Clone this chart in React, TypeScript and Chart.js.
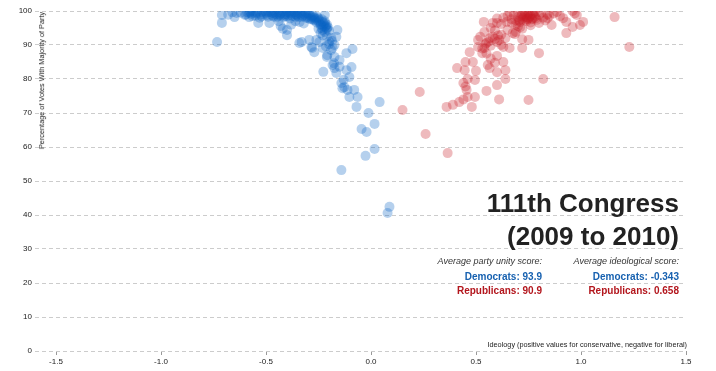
import React, { useEffect, useRef } from "react";
import { Chart, registerables } from "chart.js";

Chart.register(...registerables);

// [ideology score, party unity %]
const democrats: [number, number][] = [
  [-0.733, 90.9], [-0.71, 98.8], [-0.71, 96.5], [-0.68, 98.9], [-0.66, 99.6], [-0.65, 98.2], [-0.64, 99.4],
  [-0.62, 99.5], [-0.6, 98.8], [-0.59, 99.6], [-0.58, 98.2], [-0.58, 99.4], [-0.57, 99.1], [-0.56, 99.8],
  [-0.55, 98.6], [-0.55, 99.2], [-0.54, 99.3], [-0.53, 98.0], [-0.52, 99.7], [-0.52, 98.4], [-0.51, 98.9],
  [-0.5, 99.4], [-0.49, 98.3], [-0.49, 99.6], [-0.48, 99.8], [-0.47, 98.7], [-0.47, 99.5], [-0.46, 99.2],
  [-0.45, 98.1], [-0.45, 99.0], [-0.44, 99.6], [-0.43, 98.5], [-0.43, 99.3], [-0.42, 99.9], [-0.41, 99.0],
  [-0.41, 98.5], [-0.4, 98.4], [-0.4, 99.7], [-0.39, 99.5], [-0.38, 98.8], [-0.38, 99.4], [-0.37, 99.9],
  [-0.36, 99.2], [-0.36, 98.3], [-0.35, 98.6], [-0.35, 99.5], [-0.34, 99.7], [-0.33, 98.3], [-0.33, 99.4],
  [-0.32, 99.1], [-0.31, 98.0], [-0.31, 99.3], [-0.3, 98.9], [-0.3, 97.9], [-0.29, 97.6], [-0.29, 98.7],
  [-0.28, 98.4], [-0.28, 97.5], [-0.27, 97.2], [-0.27, 98.1], [-0.26, 96.6], [-0.26, 97.7], [-0.25, 97.8],
  [-0.25, 96.9], [-0.24, 95.9], [-0.24, 96.2], [-0.23, 96.8], [-0.23, 95.5], [-0.22, 95.3], [-0.22, 97.0],
  [-0.21, 94.6], [-0.21, 96.0], [-0.21, 95.0], [-0.2, 94.2], [-0.22, 98.8], [-0.22, 96.4],
  [-0.24, 93.5], [-0.23, 92.8], [-0.22, 93.8], [-0.21, 92.5], [-0.25, 94.8],
  [-0.595, 99.0], [-0.575, 99.8], [-0.565, 98.5], [-0.545, 99.6], [-0.525, 99.0], [-0.505, 99.9],
  [-0.495, 98.8], [-0.475, 99.2], [-0.465, 98.4], [-0.455, 99.7], [-0.435, 98.9], [-0.425, 99.5],
  [-0.415, 98.2], [-0.405, 99.1], [-0.395, 98.7], [-0.385, 100.0], [-0.375, 98.5], [-0.365, 99.6],
  [-0.355, 98.9], [-0.345, 98.2], [-0.335, 99.0], [-0.325, 98.6], [-0.315, 99.8], [-0.305, 98.4],
  [-0.295, 99.2], [-0.285, 98.0], [-0.275, 98.7], [-0.265, 97.4], [-0.255, 98.2], [-0.245, 97.2],
  [-0.235, 97.6], [-0.225, 96.0], [-0.215, 95.6], [-0.205, 95.2], [-0.445, 98.4], [-0.385, 97.8],
  [-0.537, 96.5], [-0.484, 96.5], [-0.43, 95.6], [-0.4, 94.4], [-0.4, 92.9], [-0.42, 94.8], [-0.44, 97.0],
  [-0.38, 96.0], [-0.36, 97.0], [-0.34, 96.8], [-0.32, 96.3],
  [-0.341, 90.6], [-0.33, 90.9], [-0.294, 91.5], [-0.284, 89.4], [-0.27, 87.9], [-0.28, 89.1], [-0.246, 90.9],
  [-0.23, 89.1], [-0.236, 95.0], [-0.231, 94.4], [-0.189, 92.1], [-0.183, 89.1], [-0.16, 94.4], [-0.165, 92.4],
  [-0.174, 90.0], [-0.174, 86.5], [-0.21, 86.5], [-0.15, 85.6], [-0.117, 87.6], [-0.088, 88.8], [-0.208, 87.0],
  [-0.19, 88.5], [-0.26, 91.5], [-0.2, 91.0], [-0.2, 90.2], [-0.215, 89.6], [-0.185, 91.2],
  [-0.183, 84.1], [-0.174, 83.2], [-0.227, 82.1], [-0.165, 81.8], [-0.117, 82.6], [-0.093, 83.5], [-0.103, 80.6],
  [-0.141, 78.8], [-0.127, 77.6], [-0.112, 76.8], [-0.08, 76.8], [-0.103, 74.7], [-0.064, 74.7], [-0.069, 71.8],
  [0.041, 73.2], [-0.012, 70.0], [0.017, 66.8], [-0.045, 65.3], [-0.021, 64.4], [0.017, 59.4], [-0.026, 57.4],
  [-0.141, 53.2], [0.088, 42.4], [0.079, 40.6], [-0.15, 83.6], [-0.13, 79.8], [-0.176, 84.6], [-0.136, 77.3],
];

const republicans: [number, number][] = [
  [0.15, 70.9], [0.232, 76.2], [0.26, 63.8], [0.365, 58.2], [0.36, 71.8], [0.39, 72.4], [0.42, 73.2],
  [0.44, 74.0], [0.48, 71.8], [0.46, 74.7], [0.495, 74.7], [0.455, 76.8], [0.45, 77.8], [0.44, 78.8],
  [0.46, 80.0], [0.495, 79.7], [0.55, 76.5], [0.61, 74.0], [0.6, 78.2], [0.75, 73.8], [0.82, 80.0],
  [0.8, 87.6], [0.93, 93.5], [1.16, 98.2], [1.23, 89.4],
  [0.41, 83.2], [0.446, 82.6], [0.45, 85.0], [0.485, 85.0], [0.5, 82.4], [0.556, 84.1], [0.565, 83.2],
  [0.6, 82.0], [0.63, 85.0], [0.64, 82.6], [0.64, 80.0], [0.6, 86.8], [0.59, 84.8], [0.47, 87.9],
  [0.51, 89.4], [0.53, 87.6], [0.54, 89.1], [0.55, 90.6], [0.51, 91.5], [0.52, 92.4], [0.54, 93.8],
  [0.537, 96.8], [0.58, 92.4], [0.6, 90.9], [0.61, 91.5], [0.63, 89.4], [0.66, 89.1], [0.72, 89.1],
  [0.675, 93.5], [0.69, 93.8], [0.72, 91.7], [0.75, 91.5], [0.6, 96.5], [0.646, 96.8], [0.67, 96.5],
  [0.685, 93.2], [0.57, 95.0], [0.59, 94.3], [0.62, 93.0], [0.64, 92.0], [0.56, 91.0], [0.57, 89.8],
  [0.62, 90.0], [0.65, 94.5], [0.58, 96.5], [0.6, 97.8], [0.53, 89.0], [0.55, 87.5], [0.57, 86.0],
  [0.7, 95.5], [0.72, 94.8], [0.59, 91.8], [0.605, 92.8], [0.545, 90.2], [0.565, 92.0],
  [0.65, 98.5], [0.66, 99.5], [0.67, 97.6], [0.68, 98.9], [0.69, 97.2], [0.7, 99.8], [0.7, 98.2],
  [0.71, 96.8], [0.72, 99.1], [0.72, 97.5], [0.73, 98.6], [0.73, 99.8], [0.74, 97.0], [0.74, 98.2],
  [0.75, 99.4], [0.75, 97.9], [0.76, 98.6], [0.76, 96.6], [0.77, 99.2], [0.77, 97.8], [0.78, 98.3],
  [0.78, 99.9], [0.79, 97.4], [0.8, 98.8], [0.8, 96.5], [0.81, 99.5], [0.82, 98.0], [0.83, 97.2],
  [0.84, 97.9], [0.84, 99.0], [0.86, 95.9], [0.85, 98.6], [0.885, 99.7], [0.9, 98.5], [0.915, 97.9],
  [0.93, 96.8], [0.96, 100.0], [0.97, 99.3], [0.98, 98.8], [0.96, 95.3], [0.995, 95.9], [1.01, 96.8],
  [0.87, 99.3], [0.71, 95.2], [0.69, 96.0], [0.63, 98.0], [0.62, 96.2], [0.76, 95.8],
  [0.715, 98.4], [0.725, 98.0], [0.735, 97.4], [0.745, 98.9], [0.755, 98.4], [0.765, 97.6],
  [0.775, 98.8], [0.745, 97.6], [0.705, 97.2], [0.785, 97.9],
];

const xTicks = [-1.5, -1.0, -0.5, 0.0, 0.5, 1.0, 1.5];
const yTicks = [0, 10, 20, 30, 40, 50, 60, 70, 80, 90, 100];

const titleLines = ["111th Congress", "(2009 to 2010)"];
const unityLabel = "Average party unity score:";
const ideologyLabel = "Average ideological score:";
const demUnity = "93.9";
const repUnity = "90.9";
const demIdeology = "-0.343";
const repIdeology = "0.658";
const xTitle = "Ideology (positive values for conservative, negative for liberal)";
const yTitle = "Percentage of Votes With Majority of Party";

const FONT = '"Liberation Sans", Arial, Helvetica, sans-serif';
const BLUE_TEXT = "#1761b0";
const RED_TEXT = "#b3161d";

export default function App() {
  const ref = useRef<HTMLCanvasElement | null>(null);

  useEffect(() => {
    if (!ref.current) return;
    const chart = new Chart(ref.current, {
      type: "scatter",
      data: {
        datasets: [
          {
            label: "Democrats",
            data: democrats.map(([x, y]) => ({ x, y })),
            backgroundColor: "rgba(10,100,195,0.3)",
            borderWidth: 0,
            pointRadius: 5,
            pointHoverRadius: 5,
          },
          {
            label: "Republicans",
            data: republicans.map(([x, y]) => ({ x, y })),
            backgroundColor: "rgba(200,25,35,0.3)",
            borderWidth: 0,
            pointRadius: 5,
            pointHoverRadius: 5,
          },
        ],
      },
      options: {
        animation: false,
        responsive: false,
        events: [],
        layout: { padding: { left: 0, right: 30, top: 11, bottom: 0 } },
        plugins: {
          legend: { display: false },
          tooltip: { enabled: false },
          title: { display: false },
        },
        scales: {
          x: {
            type: "linear",
            min: -1.6,
            max: 1.5,
            afterBuildTicks: (s: any) => {
              s.ticks = xTicks.map((v) => ({ value: v }));
            },
            afterFit: (s: any) => {
              s.height = 20;
            },
            grid: {
              drawOnChartArea: false,
              drawTicks: true,
              tickLength: 4,
              color: "#999",
              tickColor: "#999",
            },
            border: { display: false },
            ticks: {
              padding: 2,
              autoSkip: false,
              maxRotation: 0,
              color: "#1a1a1a",
              font: { family: FONT, size: 8 },
              callback: (v: any) => Number(v).toFixed(1),
            },
          },
          y: {
            type: "linear",
            min: 0,
            max: 100,
            afterBuildTicks: (s: any) => {
              s.ticks = yTicks.map((v) => ({ value: v }));
            },
            afterFit: (s: any) => {
              s.width = 35;
            },
            grid: { color: "#cccccc", drawTicks: false, lineWidth: 1 },
            border: { display: false, dash: [4, 3] },
            ticks: {
              padding: 3,
              color: "#1a1a1a",
              font: { family: FONT, size: 8 },
              callback: (v: any) => String(v),
            },
          },
        },
      },
    } as any);
    return () => chart.destroy();
  }, []);

  const abs = (extra: React.CSSProperties): React.CSSProperties => ({
    position: "absolute",
    whiteSpace: "nowrap",
    fontFamily: FONT,
    lineHeight: 1,
    textAlign: "right",
    ...extra,
  });

  return (
    <div style={{ position: "absolute", left: 0, top: 0, width: 716, height: 371, background: "#fff" }}>
      <canvas ref={ref} width={716} height={371} style={{ display: "block" }} />
      <div style={abs({ right: 37, top: 190, fontSize: 26, fontWeight: 700, color: "#222" })}>{titleLines[0]}</div>
      <div style={abs({ right: 37, top: 223, fontSize: 26, fontWeight: 700, color: "#222" })}>{titleLines[1]}</div>

      <div style={abs({ right: 174, top: 257, fontSize: 9, fontStyle: "italic", color: "#333" })}>{unityLabel}</div>
      <div style={abs({ right: 174, top: 272, fontSize: 10, fontWeight: 700, color: BLUE_TEXT })}>Democrats: {demUnity}</div>
      <div style={abs({ right: 174, top: 285.5, fontSize: 10, fontWeight: 700, color: RED_TEXT })}>Republicans: {repUnity}</div>

      <div style={abs({ right: 37, top: 257, fontSize: 9, fontStyle: "italic", color: "#333" })}>{ideologyLabel}</div>
      <div style={abs({ right: 37, top: 272, fontSize: 10, fontWeight: 700, color: BLUE_TEXT })}>Democrats: {demIdeology}</div>
      <div style={abs({ right: 37, top: 285.5, fontSize: 10, fontWeight: 700, color: RED_TEXT })}>Republicans: {repIdeology}</div>

      <div style={abs({ right: 29, top: 340.8, fontSize: 7.3, color: "#222" })}>{xTitle}</div>
      <div
        style={abs({
          right: 677.7,
          top: 12,
          fontSize: 7.3,
          color: "#222",
          transformOrigin: "top right",
          transform: "rotate(-90deg)",
        })}
      >
        {yTitle}
      </div>
    </div>
  );
}
